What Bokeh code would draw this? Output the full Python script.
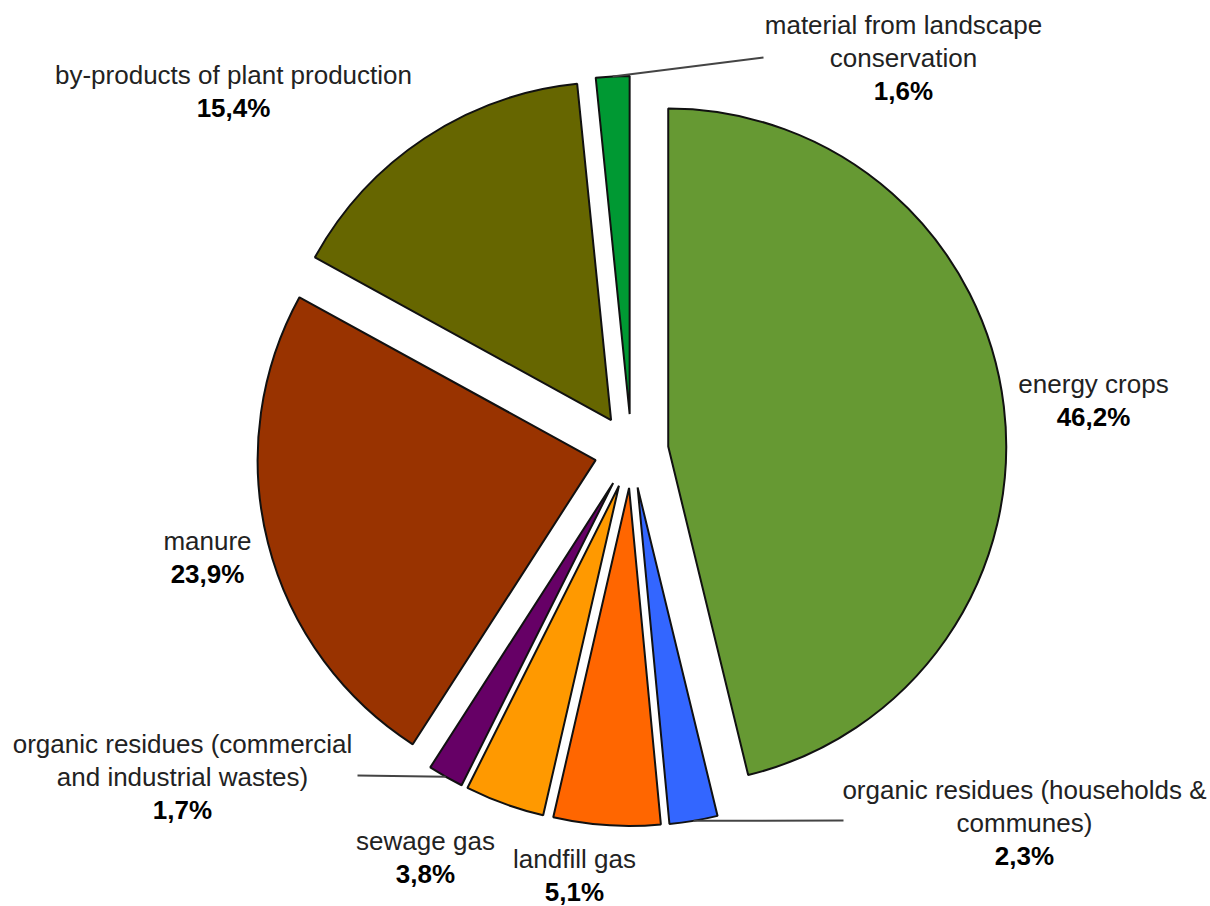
import math

from bokeh.plotting import figure
from bokeh.models import Range1d, ColumnDataSource
from bokeh.embed import file_html
from bokeh.resources import INLINE
from bokeh.core.properties import value

# Biomass sources, clockwise from 12 o'clock
categories = [
    "energy crops",
    "organic residues (households &\ncommunes)",
    "landfill gas",
    "sewage gas",
    "organic residues (commercial\nand industrial wastes)",
    "manure",
    "by-products of plant production",
    "material from landscape\nconservation",
]
shares = [46.2, 2.3, 5.1, 3.8, 1.7, 23.9, 15.4, 1.6]
colors = ["#669933", "#3366FF", "#FF6600", "#FF9900", "#660066",
          "#993300", "#666600", "#009933"]

# layout (screen pixels, y measured from the top)
W, H = 1210, 906
CX, CY = 631, 450.5
R = 338
EXPLODE = 37
LINE_GAP = 33
FONT = "Liberation Sans"
label_pos = [(1093, 383), (1024, 789), (574, 858), (425, 840),
             (182, 743), (207, 540), (233, 74), (903, 24)]
# where each leader line ends near its label (None = no leader)
leader_end = [None, (843, 820), None, None, (357, 775), None, None, (763, 57)]


def fy(ypix):
    """Convert a top-down pixel row into the upward data axis."""
    return H - ypix


p = figure(width=W, height=H, x_range=Range1d(0, W), y_range=Range1d(0, H),
           output_backend="svg", toolbar_location=None, min_border=0,
           background_fill_color="white", border_fill_color="white")
p.axis.visible = False
p.grid.visible = False
p.outline_line_color = None

total = sum(shares)
wx, wy, starts, ends, tips = [], [], [], [], []
acc = 0.0
for s in shares:
    a0 = acc / total * 2 * math.pi          # clockwise from top
    acc += s
    a1 = acc / total * 2 * math.pi
    mid = (a0 + a1) / 2
    ox = CX + EXPLODE * math.sin(mid)
    oy = fy(CY) + EXPLODE * math.cos(mid)
    wx.append(ox)
    wy.append(oy)
    starts.append(math.pi / 2 - a0)
    ends.append(math.pi / 2 - a1)
    tips.append((ox + R * math.sin(mid), oy + R * math.cos(mid)))

src = ColumnDataSource(dict(x=wx, y=wy, start=starts, end=ends, color=colors))
p.wedge(x="x", y="y", radius=R, start_angle="start", end_angle="end",
        direction="clock", fill_color="color", line_color="#111111",
        line_width=2, source=src)

# leader lines for the thin slices
for tip, end in zip(tips, leader_end):
    if end is None:
        continue
    p.line([tip[0], end[0]], [tip[1], fy(end[1])], line_color="#444444",
           line_width=2)

# labels: category lines in regular weight, share in bold below
nx, ny, nt, bx, by, bt = [], [], [], [], [], []
for name, s, (lx, ly) in zip(categories, shares, label_pos):
    lines = name.split("\n")
    for i, ln in enumerate(lines):
        nx.append(lx)
        ny.append(fy(ly + i * LINE_GAP))
        nt.append(ln)
    bx.append(lx)
    by.append(fy(ly + len(lines) * LINE_GAP))
    bt.append(f"{s:.1f}%".replace(".", ","))

p.text(x=nx, y=ny, text=nt, text_align="center", text_baseline="middle",
       text_font=value(FONT), text_font_size="26px", text_color="#222222")
p.text(x=bx, y=by, text=bt, text_align="center", text_baseline="middle",
       text_font=value(FONT), text_font_size="26px", text_font_style="bold",
       text_color="#000000")

open("out.html", "w").write(file_html(p, INLINE))
